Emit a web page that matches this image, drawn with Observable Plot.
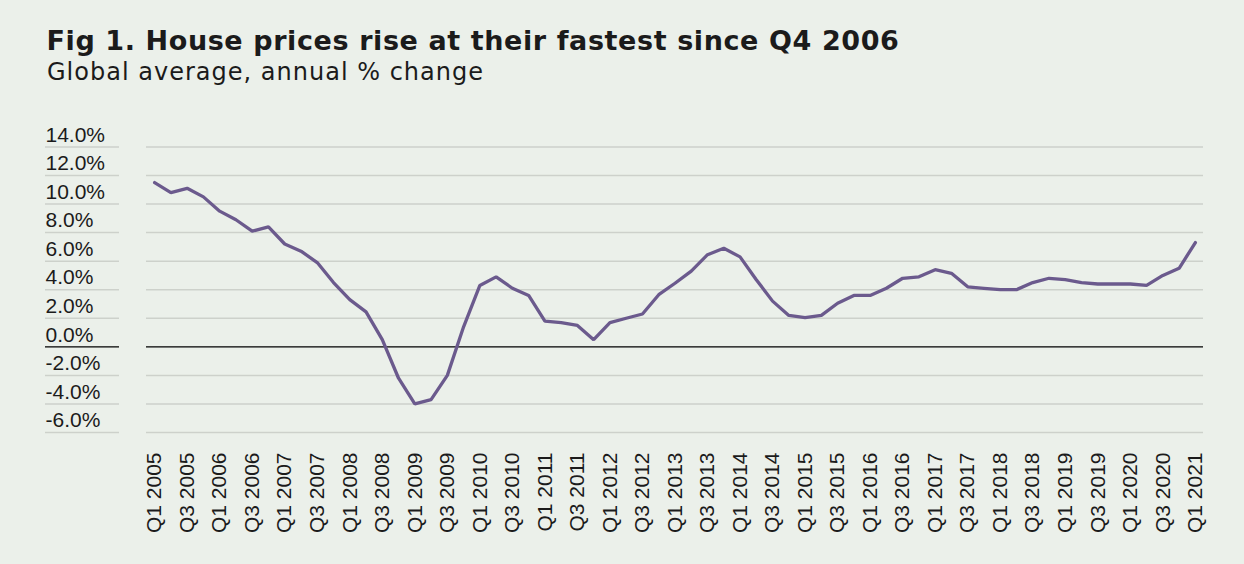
<!DOCTYPE html>
<html>
<head>
<meta charset="utf-8">
<script src="https://cdn.jsdelivr.net/npm/d3@7"></script>
<script src="https://cdn.jsdelivr.net/npm/@observablehq/plot@0.6"></script>
<style>
  html, body { margin: 0; padding: 0; background: #ebf0ea; width: 1244px; height: 564px; overflow: hidden; }
  #header { position: relative; height: 110px; }
  #title { position: absolute; left: 46.5px; top: 27px; font-family: "DejaVu Sans", sans-serif; font-weight: bold;
           font-size: 27px; line-height: 27px; color: #1b1b1b; white-space: nowrap; }
  #subtitle { position: absolute; left: 47px; top: 59.5px; font-family: "DejaVu Sans", sans-serif; font-weight: normal;
              font-size: 24px; line-height: 24px; color: #1b1b1b; white-space: nowrap; }
  #chart svg { display: block; }
</style>
</head>
<body>
<div id="header">
  <div id="title">Fig 1. House prices rise at their fastest since Q4 2006</div>
  <div id="subtitle">Global average, annual % change</div>
</div>
<div id="chart"></div>
<script>
const quarters = [
  "Q1 2005","Q2 2005","Q3 2005","Q4 2005",
  "Q1 2006","Q2 2006","Q3 2006","Q4 2006",
  "Q1 2007","Q2 2007","Q3 2007","Q4 2007",
  "Q1 2008","Q2 2008","Q3 2008","Q4 2008",
  "Q1 2009","Q2 2009","Q3 2009","Q4 2009",
  "Q1 2010","Q2 2010","Q3 2010","Q4 2010",
  "Q1 2011","Q2 2011","Q3 2011","Q4 2011",
  "Q1 2012","Q2 2012","Q3 2012","Q4 2012",
  "Q1 2013","Q2 2013","Q3 2013","Q4 2013",
  "Q1 2014","Q2 2014","Q3 2014","Q4 2014",
  "Q1 2015","Q2 2015","Q3 2015","Q4 2015",
  "Q1 2016","Q2 2016","Q3 2016","Q4 2016",
  "Q1 2017","Q2 2017","Q3 2017","Q4 2017",
  "Q1 2018","Q2 2018","Q3 2018","Q4 2018",
  "Q1 2019","Q2 2019","Q3 2019","Q4 2019",
  "Q1 2020","Q2 2020","Q3 2020","Q4 2020",
  "Q1 2021"
];
const values = [
  11.5, 10.8, 11.1, 10.5,
  9.5, 8.9, 8.1, 8.4,
  7.2, 6.7, 5.9, 4.5,
  3.3, 2.45, 0.5, -2.2,
  -4.0, -3.7, -2.0, 1.4,
  4.3, 4.9, 4.1, 3.6,
  1.8, 1.7, 1.5, 0.5,
  1.7, 2.0, 2.3, 3.65,
  4.45, 5.3, 6.45, 6.9,
  6.3, 4.7, 3.2, 2.2,
  2.05, 2.2, 3.05, 3.6,
  3.6, 4.1, 4.8, 4.9,
  5.4, 5.15, 4.2, 4.1,
  4.0, 4.0, 4.5, 4.8,
  4.7, 4.5, 4.4, 4.4,
  4.4, 4.3, 5.0, 5.5,
  7.3
];
const yTicks = [-6, -4, -2, 0, 2, 4, 6, 8, 10, 12, 14];
const xTickLabels = [
  "Q1 2005","Q3 2005","Q1 2006","Q3 2006","Q1 2007","Q3 2007","Q1 2008","Q3 2008",
  "Q1 2009","Q3 2009","Q1 2010","Q3 2010","Q1 2011","Q3 2011","Q1 2012","Q3 2012",
  "Q1 2013","Q3 2013","Q1 2014","Q3 2014","Q1 2015","Q3 2015","Q1 2016","Q3 2016",
  "Q1 2017","Q3 2017","Q1 2018","Q3 2018","Q1 2019","Q3 2019","Q1 2020","Q3 2020",
  "Q1 2021"
];

// position of each quarter along the x scale = its index in the category list
const data = quarters.map((q, i) => ({idx: i, quarter: q, value: values[i]}));
const xTickIdx = xTickLabels.map(l => quarters.indexOf(l));
const gridTicks = yTicks.filter(d => d !== 0);

const gridColor = "#cdd1cb";
const lineColor = "#6b5a8d";
const textColor = "#1b1b1b";

const chart = Plot.plot({
  width: 1244,
  height: 454,
  marginLeft: 146,
  marginRight: 41,
  marginTop: 36.4,
  marginBottom: 132,
  style: {background: "transparent", fontFamily: "'Liberation Sans', Arial, sans-serif", fontSize: "21px", color: textColor},
  x: {type: "linear", domain: [-0.5, quarters.length - 0.5], label: null},
  y: {domain: [-6, 14], label: null},
  marks: [
    Plot.ruleY(gridTicks, {stroke: gridColor, strokeWidth: 1.5}),
    Plot.axisY(gridTicks, {tickSize: 74, dx: -27, tickFormat: () => "", stroke: gridColor, strokeWidth: 1.5, label: null}),
    Plot.axisY([0], {tickSize: 74, dx: -27, tickFormat: () => "", stroke: "#000", strokeWidth: 1.2, label: null}),
    Plot.axisY(yTicks, {tickSize: 0, tickPadding: 101, textAnchor: "start", dy: -12,
                        tickFormat: d => d.toFixed(1) + "%", fill: textColor, fontSize: 21, label: null}),
    Plot.axisX(xTickIdx, {tickSize: 0, tickPadding: 20, tickRotate: -90, tickFormat: i => quarters[i],
                          fill: textColor, fontSize: 21, label: null}),
    Plot.ruleY([0], {stroke: "#000", strokeWidth: 1.2}),
    Plot.line(data, {x: "idx", y: "value", stroke: lineColor, strokeWidth: 3.3, strokeLinejoin: "miter"})
  ]
});
document.getElementById("chart").appendChild(chart);

function fit(el, target) {
  const w = el.getBoundingClientRect().width;
  const n = el.textContent.length;
  el.style.letterSpacing = ((target - w) / n) + "px";
}
fit(document.getElementById("title"), 853);
fit(document.getElementById("subtitle"), 437);
</script>
</body>
</html>
